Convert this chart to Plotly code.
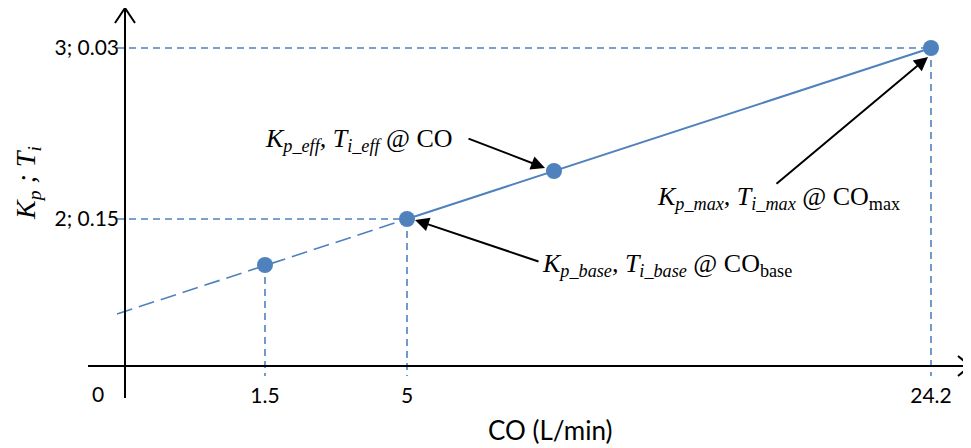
import plotly.graph_objects as go

# ---- data (schematic positions; origin of the drawing = (0, 0)) ----
co_tick_labels = ["1.5", "5", "24.2"]
co_tick_pos = [140, 282, 806]
y_tick_labels = ["2; 0.15", "3; 0.03"]
y_tick_pos = [147, 318]

# operating points: CO=1.5, CO_base, CO (eff), CO_max
point_x = [140, 282, 429, 806]
point_y = [101, 147, 195, 318]

# dashed extrapolation of the gain line toward the y axis
ext_x = [-8, 282]
ext_y = [52, 147]

BLUE = "#4F81BD"
SERIF = "Liberation Serif, Times New Roman, serif"
SANS = "Lato, Open Sans, sans-serif"

fig = go.Figure()

# guide lines (vertical)
for xp, yp in zip([point_x[0], point_x[1], point_x[3]], [point_y[0], point_y[1], point_y[3]]):
    fig.add_trace(go.Scatter(x=[xp, xp], y=[yp, -10], mode="lines",
                             line=dict(color=BLUE, width=1.6, dash="7px,5px"),
                             hoverinfo="skip", showlegend=False))
# guide lines (horizontal)
for xp, yp in zip([point_x[1], point_x[3]], [point_y[1], point_y[3]]):
    fig.add_trace(go.Scatter(x=[-8, xp], y=[yp, yp], mode="lines",
                             line=dict(color=BLUE, width=1.6, dash="7px,5px"),
                             hoverinfo="skip", showlegend=False))

# extrapolated part
fig.add_trace(go.Scatter(x=ext_x, y=ext_y, mode="lines",
                         line=dict(color=BLUE, width=1.6, dash="16px,7px"),
                         hoverinfo="skip", showlegend=False))
# solid line between CO_base and CO_max
fig.add_trace(go.Scatter(x=point_x[1:], y=point_y[1:], mode="lines",
                         line=dict(color=BLUE, width=2),
                         hoverinfo="skip", showlegend=False))
# points
fig.add_trace(go.Scatter(x=point_x, y=point_y, mode="markers",
                         marker=dict(color=BLUE, size=16),
                         hoverinfo="skip", showlegend=False))

# axis lines with open arrow heads
axis_line = dict(color="black", width=2)
shapes = [
    dict(type="line", xref="x", yref="y", x0=-37, x1=844, y0=0, y1=0, line=axis_line),
    dict(type="line", xref="x", yref="y", x0=0, x1=0, y0=-32, y1=358, line=axis_line),
    dict(type="path", xref="x", yref="y", path="M 833,10 L 845,0 L 833,-10", line=axis_line),
    dict(type="path", xref="x", yref="y", path="M -10,343 L 0,358 L 10,343", line=axis_line),
]

annotations = []
# arrows
for (tx, ty), (hx, hy) in [((342, 228), (420, 198)),
                           ((415, 104), (290, 146)),
                           ((650, 181), (803, 309))]:
    annotations.append(dict(x=hx, y=hy, ax=tx, ay=ty, xref="x", yref="y",
                            axref="x", ayref="y", text="", showarrow=True,
                            arrowhead=2, arrowsize=1.4, arrowwidth=2,
                            arrowcolor="black"))
# labels
annotations += [
    dict(x=330, y=226, xref="x", yref="y", xanchor="right", yanchor="middle",
         text="<i>K<sub>p_eff</sub>, T<sub>i_eff</sub></i> @ CO",
         showarrow=False, font=dict(family=SERIF, size=26, color="black")),
    dict(x=415, y=101, xref="x", yref="y", xanchor="left", yanchor="middle",
         text="<i>K<sub>p_base</sub>, T<sub>i_base</sub></i> @ CO<sub>base</sub>",
         showarrow=False, font=dict(family=SERIF, size=26, color="black")),
    dict(x=530, y=168, xref="x", yref="y", xanchor="left", yanchor="middle",
         text="<i>K<sub>p_max</sub>, T<sub>i_max</sub></i> @ CO<sub>max</sub>",
         showarrow=False, font=dict(family=SERIF, size=26, color="black")),
    dict(x=0, y=0, xref="x", yref="y", xshift=-27, yshift=-27,
         text="0", showarrow=False, font=dict(family=SANS, size=21, color="black")),
    dict(x=425, y=-64, xref="x", yref="y", text="CO (L/min)", showarrow=False,
         font=dict(family=SANS, size=26, color="black")),
    dict(x=-98, y=183, xref="x", yref="y", textangle=-90,
         text="<i>K<sub>p</sub> ; T<sub>i</sub></i>", showarrow=False,
         font=dict(family=SERIF, size=28, color="black")),
]

# the page body adds an 8 px offset; the figure is sized to fit the window
fig.update_layout(
    width=963, height=440,
    margin=dict(l=0, r=0, t=0, b=0),
    paper_bgcolor="white", plot_bgcolor="white",
    shapes=shapes, annotations=annotations,
    xaxis=dict(range=[-117, 846], showgrid=False, zeroline=False, showline=False,
               tickmode="array", tickvals=co_tick_pos, ticktext=co_tick_labels,
               ticks="", anchor="free", position=82 / 440, ticklabelstandoff=15,
               tickfont=dict(family=SANS, size=21, color="black")),
    yaxis=dict(range=[-82, 358], showgrid=False, zeroline=False, showline=False,
               tickmode="array", tickvals=y_tick_pos, ticktext=y_tick_labels,
               ticks="", anchor="free", position=117 / 963, ticklabelstandoff=6,
               tickfont=dict(family=SANS, size=21, color="black")),
)

fig.write_html("out.html")
